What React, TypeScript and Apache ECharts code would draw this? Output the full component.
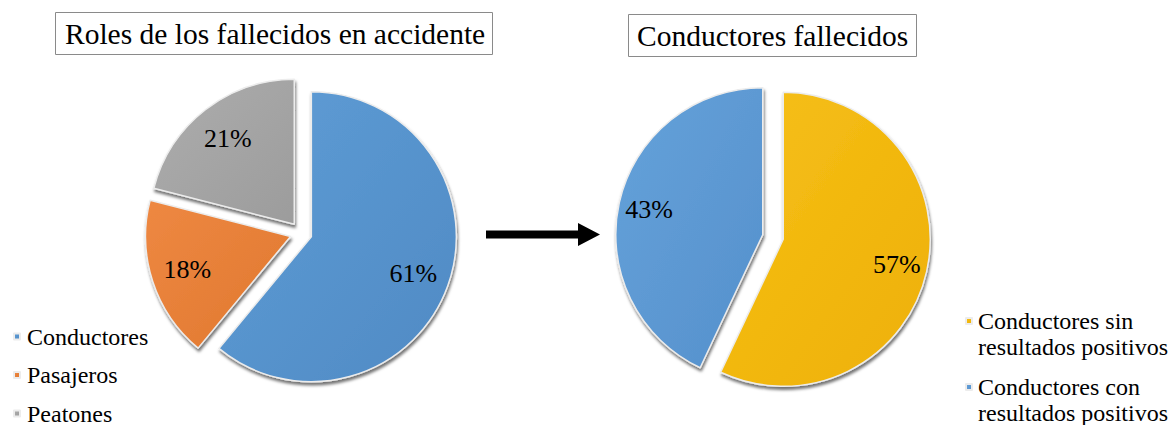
import React, { useEffect, useRef } from 'react';
import * as echarts from 'echarts';

const titleTexts = ['Roles de los fallecidos en accidente', 'Conductores fallecidos'];
const roleNames = ['Conductores', 'Pasajeros', 'Peatones'];
const roleValues = [61, 18, 21];
const roleColors = [
  ['#5f9dd6', '#4f8ac4'],
  ['#ee8842', '#e0782f'],
  ['#adadad', '#9c9c9c'],
];
const driverNames = ['Conductores sin resultados positivos', 'Conductores con resultados positivos'];
const driverValues = [57, 43];
const driverColors = [
  ['#f6c01a', '#eeb004'],
  ['#65a2da', '#5590cc'],
];

const FONT = 'Liberation Serif';

function grad(c: string[]) {
  return new echarts.graphic.LinearGradient(0, 0, 1, 1, [
    { offset: 0, color: c[0] },
    { offset: 1, color: c[1] },
  ]);
}

function pieSeries(names: string[], values: number[], colors: string[][], center: number[], r: number, offset: number, labelR0: number) {
  const baseItem = {
    borderColor: '#ececec',
    borderWidth: 1.5,
    shadowBlur: 3,
    shadowOffsetY: 3,
    shadowOffsetX: 1,
    shadowColor: 'rgba(0,0,0,0.55)',
  };
  const visible = {
    type: 'pie',
    center,
    radius: [0, r],
    startAngle: 90,
    clockwise: true,
    selectedMode: 'multiple',
    selectedOffset: offset,
    avoidLabelOverlap: false,
    label: { show: false },
    labelLine: { show: false },
    emphasis: { disabled: true },
    itemStyle: baseItem,
    select: { itemStyle: { borderColor: '#ececec', borderWidth: 1.5 } },
    data: names.map((n, i) => ({ name: n, value: values[i], selected: true, itemStyle: { color: grad(colors[i]) } })),
  };
  const labels = {
    type: 'pie',
    center,
    radius: [labelR0, r],
    startAngle: 90,
    clockwise: true,
    selectedMode: 'multiple',
    selectedOffset: offset,
    silent: true,
    avoidLabelOverlap: false,
    emphasis: { disabled: true },
    itemStyle: { color: 'transparent', borderWidth: 0 },
    select: { itemStyle: { color: 'transparent', borderWidth: 0 } },
    labelLine: { show: false },
    label: {
      show: true,
      position: 'inside',
      formatter: (p: any) => p.value + '%',
      fontFamily: FONT,
      fontSize: 26,
      color: '#000',
    },
    data: names.map((n, i) => ({ name: n, value: values[i], selected: true })),
  };
  return [visible, labels];
}

export default function App() {
  const ref = useRef<HTMLDivElement>(null);
  useEffect(() => {
    if (!ref.current) return;
    const chart = echarts.init(ref.current, undefined, { renderer: 'svg' });
    const titleStyle = { fontFamily: FONT, fontSize: 29.5, fontWeight: 'normal', color: '#000', lineHeight: 31 };
    chart.setOption({
      animation: false,
      backgroundColor: '#fff',
      title: [
        { text: titleTexts[0], left: 55, top: 12, padding: [6, 8, 6, 10], borderColor: '#8a8a8a', borderWidth: 1, textStyle: titleStyle },
        { text: titleTexts[1], left: 628, top: 14, padding: [6, 9, 6, 9], borderColor: '#8a8a8a', borderWidth: 1, textStyle: titleStyle },
      ],
      legend: [
        {
          data: roleNames,
          orient: 'vertical',
          left: 13,
          top: 324.5,
          height: 140,
          padding: 0,
          icon: 'rect',
          itemWidth: 6,
          itemHeight: 6,
          itemGap: 14.5,
          selectedMode: false,
          formatter: (n: string) => '{s|}' + n,
          textStyle: {
            fontFamily: FONT,
            fontSize: 24,
            lineHeight: 23,
            color: '#000',
            rich: { s: { width: 2, fontFamily: FONT, fontSize: 24, lineHeight: 23 } },
          },
        },
        {
          data: driverNames,
          orient: 'vertical',
          left: 965,
          top: 282,
          height: 200,
          padding: 0,
          icon: 'rect',
          itemWidth: 6,
          itemHeight: 6,
          itemGap: -12,
          selectedMode: false,
          formatter: (n: string) => {
            const k = n.indexOf(' resultados');
            return '{s|} \n{s|}' + n.slice(0, k) + '\n{s|}' + n.slice(k + 1);
          },
          textStyle: {
            fontFamily: FONT,
            fontSize: 24,
            lineHeight: 26,
            color: '#000',
            rich: { s: { width: 1, fontFamily: FONT, fontSize: 24, lineHeight: 26 } },
          },
        },
      ],
      graphic: [
        {
          type: 'polygon',
          shape: {
            points: [
              [486, 230.5],
              [578, 230.5],
              [578, 223],
              [600, 234.5],
              [578, 246],
              [578, 238.5],
              [486, 238.5],
            ],
          },
          style: { fill: '#000' },
        },
      ],
      series: [
        ...pieSeries(roleNames, roleValues, roleColors, [301, 233], 145, 11, 66),
        ...pieSeries(driverNames, driverValues, driverColors, [773, 237], 147, 10.5, 80),
      ],
    });
    return () => chart.dispose();
  }, []);
  return <div ref={ref} style={{ position: 'fixed', left: 0, top: 0, width: 1172, height: 425 }} />;
}
